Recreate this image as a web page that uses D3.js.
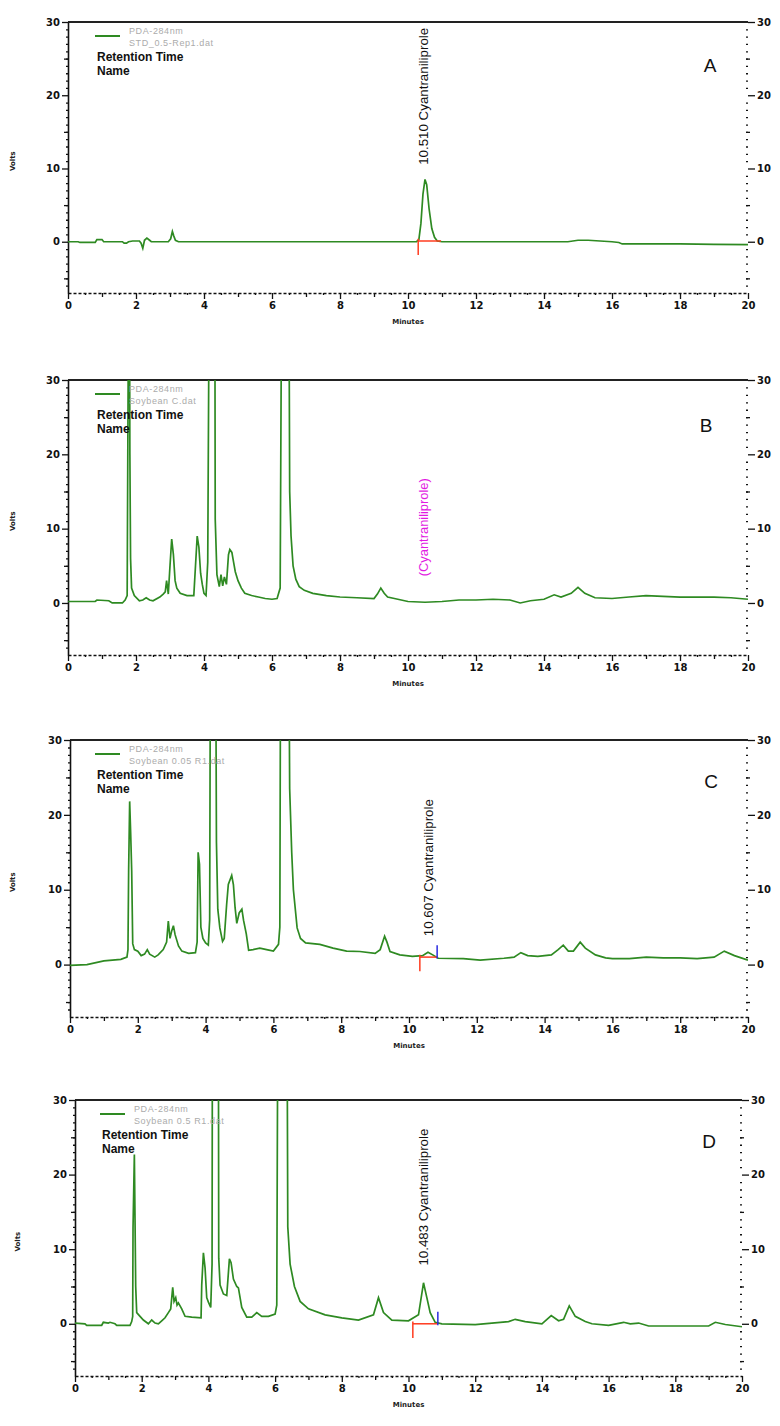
<!DOCTYPE html>
<html><head><meta charset="utf-8">
<script src="https://cdn.jsdelivr.net/npm/d3@7"></script>
<style>body{margin:0;background:#fff}</style></head>
<body><svg id="c" width="780" height="1426"></svg>
<script>
// ---------- DATA ----------
const panelLetters = ["A", "B", "C", "D"];
const channel = "PDA-284nm";
const fileNames = ["STD_0.5-Rep1.dat", "Soybean C.dat", "Soybean 0.05 R1.dat", "Soybean 0.5 R1.dat"];
const xTickLabels = [0, 2, 4, 6, 8, 10, 12, 14, 16, 18, 20];
const yTickLabels = [0, 10, 20, 30];
const annotText = ["10.510  Cyantraniliprole", "(Cyantraniliprole)", "10.607  Cyantraniliprole", "10.483  Cyantraniliprole"];
const annotTime = [10.51, 10.5, 10.607, 10.483];
const annotLevel = [10.5, 3.6, 3.8, 7.8];
const markStart = [10.3, null, 10.32, 10.13];
const markEnd = [10.97, null, 10.83, 10.88];
const markLevel = [0.1, null, 1.0, 0.0];
const markBlue = [false, false, true, true];

const traceA = [[0,0],[0.3,0],[0.35,-0.1],[0.8,-0.1],[0.85,0.3],[1.0,0.3],[1.05,0],[1.6,0],[1.65,-0.2],[1.72,-0.2],[1.78,0],[1.9,0.1],[2.1,0.1],[2.15,-0.2],[2.2,-0.9],[2.25,0.2],[2.32,0.5],[2.4,0.2],[2.45,0],[2.95,0],[3.02,0.4],[3.07,1.4],[3.11,0.8],[3.16,0.2],[3.25,0],[6,0],[9,0],[10.0,0],[10.25,0],[10.32,0.3],[10.38,2.5],[10.44,6.5],[10.5,8.5],[10.55,7.8],[10.62,4.5],[10.7,1.8],[10.78,0.6],[10.86,0.1],[11,0],[12,0],[14,0],[14.7,0],[15.0,0.2],[15.3,0.2],[16.0,0],[16.2,-0.1],[16.3,-0.3],[17,-0.3],[18,-0.3],[19,-0.35],[20,-0.4]];

const traceB = [[0,0.2],[0.8,0.2],[0.85,0.4],[1.2,0.3],[1.3,0.0],[1.6,0.0],[1.68,0.4],[1.74,1.0],[1.76,21.5],[1.78,40],[1.81,40],[1.82,20],[1.84,6],[1.87,2],[1.95,1.0],[2.1,0.3],[2.2,0.4],[2.3,0.7],[2.4,0.4],[2.5,0.3],[2.7,0.8],[2.8,1.2],[2.86,1.5],[2.9,3.0],[2.95,1.2],[3.0,5.0],[3.05,8.6],[3.1,6.5],[3.15,3.0],[3.2,2.0],[3.3,1.3],[3.5,1.0],[3.7,1.0],[3.75,5.0],[3.8,9.0],[3.85,7.5],[3.9,4.0],[3.95,2.5],[4.0,1.3],[4.06,1.0],[4.11,5.5],[4.15,40],[4.32,40],[4.33,11.3],[4.38,3.8],[4.45,2.2],[4.5,3.8],[4.55,2.3],[4.6,3.5],[4.66,2.5],[4.72,6.5],[4.76,7.2],[4.82,6.8],[4.87,5.5],[4.92,4.2],[5.0,3.0],[5.1,2.0],[5.2,1.3],[5.4,1.0],[5.6,0.8],[5.8,0.6],[6.0,0.5],[6.15,0.6],[6.24,2.0],[6.28,40],[6.5,40],[6.52,15],[6.56,9],[6.62,5],[6.7,3.2],[6.8,2.2],[6.95,1.7],[7.2,1.3],[7.6,1.0],[8.0,0.8],[8.5,0.7],[9.0,0.6],[9.1,1.2],[9.2,2.0],[9.3,1.3],[9.4,0.8],[9.6,0.6],[10.0,0.2],[10.5,0.1],[11.0,0.2],[11.5,0.4],[12.0,0.4],[12.5,0.5],[13.0,0.4],[13.3,0.0],[13.6,0.3],[14.0,0.5],[14.3,1.1],[14.5,0.8],[14.8,1.3],[15.0,2.1],[15.2,1.3],[15.5,0.7],[16.0,0.6],[16.5,0.8],[17.0,1.0],[17.5,0.9],[18.0,0.8],[18.5,0.8],[19.0,0.8],[19.5,0.7],[20.0,0.5]];

const traceC = [[0,-0.1],[0.5,0.0],[1.0,0.5],[1.5,0.7],[1.68,1.0],[1.71,2.0],[1.73,12.7],[1.76,21.8],[1.79,17.5],[1.82,12.5],[1.85,2.8],[1.9,2.0],[2.0,1.8],[2.1,1.2],[2.2,1.4],[2.28,2.0],[2.35,1.4],[2.5,1.0],[2.6,1.3],[2.75,2.0],[2.85,3.0],[2.9,5.8],[2.95,3.5],[3.0,4.5],[3.05,5.2],[3.1,4.0],[3.2,2.5],[3.3,1.8],[3.5,1.5],[3.7,1.6],[3.75,3.0],[3.78,15.0],[3.82,13.4],[3.86,5.0],[3.92,3.5],[4.0,2.9],[4.08,2.6],[4.12,6.0],[4.14,40],[4.3,40],[4.32,16.3],[4.36,7.4],[4.42,4.9],[4.5,3.1],[4.55,3.5],[4.62,8.0],[4.67,10.7],[4.77,11.9],[4.82,10.7],[4.87,7.6],[4.92,5.5],[4.99,6.9],[5.07,7.4],[5.12,5.9],[5.2,4.1],[5.27,1.9],[5.4,2.0],[5.6,2.2],[5.8,2.0],[6.0,1.8],[6.15,2.7],[6.19,5],[6.21,40],[6.46,40],[6.48,23.5],[6.54,15],[6.59,10.0],[6.7,4.9],[6.8,3.5],[6.95,2.9],[7.37,2.7],[7.76,2.2],[8.16,1.8],[8.55,1.75],[9.0,1.5],[9.15,2.0],[9.28,3.8],[9.35,3.0],[9.44,1.75],[9.73,1.3],[10.1,1.1],[10.4,1.2],[10.56,1.65],[10.7,1.3],[10.86,0.85],[11.6,0.8],[12.1,0.6],[12.8,0.85],[13.1,1.0],[13.3,1.6],[13.5,1.2],[13.8,1.1],[14.2,1.3],[14.4,2.0],[14.55,2.6],[14.7,1.8],[14.85,1.8],[15.05,3.0],[15.2,2.2],[15.5,1.3],[15.8,0.9],[16.0,0.8],[16.5,0.8],[17.0,1.0],[17.5,0.9],[18.0,0.9],[18.5,0.8],[19.0,1.0],[19.3,1.8],[19.6,1.2],[20.0,0.6]];

const traceD = [[0,0.1],[0.3,0.0],[0.35,-0.2],[0.8,-0.2],[0.85,0.2],[1.0,0.1],[1.05,0.2],[1.2,0.0],[1.25,-0.2],[1.65,-0.2],[1.7,0.3],[1.73,1.0],[1.74,12.8],[1.78,22.7],[1.82,5.0],[1.85,1.5],[1.95,1.0],[2.05,0.5],[2.2,0.0],[2.3,0.5],[2.4,0.1],[2.5,0.0],[2.6,0.4],[2.7,0.8],[2.8,1.5],[2.87,2.0],[2.93,4.9],[2.97,3.0],[3.02,3.5],[3.06,2.5],[3.1,2.8],[3.2,2.0],[3.3,1.0],[3.5,0.9],[3.78,0.8],[3.8,5.2],[3.85,9.5],[3.9,7.5],[3.95,3.5],[4.0,2.9],[4.07,2.2],[4.11,8.0],[4.12,40],[4.3,40],[4.31,8.8],[4.35,5.2],[4.45,4.0],[4.55,3.8],[4.63,8.7],[4.68,8.2],[4.75,6.0],[4.85,5.0],[4.9,4.8],[5.0,2.2],[5.15,0.9],[5.3,0.9],[5.45,1.5],[5.6,1.0],[5.8,1.0],[6.0,1.3],[6.05,2.5],[6.08,40],[6.36,40],[6.38,13],[6.45,8],[6.58,5],[6.75,3],[7.0,2],[7.5,1.2],[8.0,0.8],[8.5,0.5],[8.95,1.2],[9.1,3.5],[9.25,1.5],[9.5,0.5],[10.0,0.4],[10.3,1.2],[10.45,5.5],[10.55,3.5],[10.65,1.5],[10.8,0.2],[11.0,0.0],[12.0,-0.1],[13.0,0.3],[13.2,0.6],[13.5,0.3],[14.0,0.0],[14.28,1.1],[14.5,0.4],[14.65,0.6],[14.82,2.4],[15.0,1.0],[15.3,0.3],[15.5,0.0],[16.0,-0.2],[16.45,0.2],[16.65,0.0],[16.9,0.1],[17.2,-0.3],[18.0,-0.3],[19.0,-0.3],[19.2,0.2],[19.5,-0.1],[20.0,-0.4]];

const traces = [traceA, traceB, traceC, traceD];

// ---------- LAYOUT ----------
const layout = [
  {l:68, r:748, t:22,   b:293,  legX:95,  voltX:12, letX:710, letY:72},
  {l:68, r:748, t:380,  b:655,  legX:95,  voltX:12, letX:706, letY:432},
  {l:70, r:748, t:740,  b:1017, legX:95,  voltX:12, letX:711, letY:788},
  {l:75, r:742, t:1100, b:1376, legX:100, voltX:17, letX:709, letY:1148}
];
const GREEN = "#2e8a22";
const svg = d3.select("#c");
const defs = svg.append("defs");

panelLetters.forEach((letter, i) => {
  const L = layout[i];
  const x = d3.scaleLinear().domain([0, 20]).range([L.l, L.r]);
  const y = d3.scaleLinear().domain([-7, 30]).range([L.b, L.t]);
  const g = svg.append("g");

  defs.append("clipPath").attr("id", "clip" + i).append("rect")
    .attr("x", L.l).attr("y", L.t).attr("width", L.r - L.l).attr("height", L.b - L.t);

  // top frame line
  g.append("line").attr("x1", L.l).attr("x2", L.r).attr("y1", L.t).attr("y2", L.t)
    .attr("stroke", "#222").attr("stroke-width", 2);

  // left axis
  const la = g.append("g").attr("transform", `translate(${L.l},0)`)
    .call(d3.axisLeft(y).tickValues(yTickLabels).tickSize(6).tickSizeOuter(0).tickPadding(2).tickFormat(d3.format("d")));
  la.select(".domain").attr("stroke", "#111").attr("stroke-width", 1.6);
  g.append("g").attr("transform", `translate(${L.l},0)`)
    .call(d3.axisLeft(y).tickValues(d3.range(-6, 30, 1).filter(v => v % 10 !== 0)).tickSize(2).tickFormat(""))
    .call(a => a.select(".domain").remove());
  g.append("g").attr("transform", `translate(${L.l},0)`)
    .call(d3.axisLeft(y).tickValues([-5, 5, 15, 25]).tickSize(4).tickFormat(""))
    .call(a => a.select(".domain").remove());

  // right axis
  g.append("g").attr("transform", `translate(${L.r},0)`)
    .call(d3.axisRight(y).tickValues(yTickLabels).tickSize(7).tickPadding(2).tickFormat(d3.format("d")))
    .call(a => a.select(".domain").remove());
  g.append("g").attr("transform", `translate(${L.r - 2},0)`)
    .call(d3.axisRight(y).tickValues(d3.range(-6, 30, 1).filter(v => v % 10 !== 0)).tickSize(2).tickFormat(""))
    .call(a => a.select(".domain").remove());
  g.append("g").attr("transform", `translate(${L.r - 2},0)`)
    .call(d3.axisRight(y).tickValues([-5, 5, 15, 25]).tickSize(4).tickFormat(""))
    .call(a => a.select(".domain").remove());

  // bottom axis
  const ba = g.append("g").attr("transform", `translate(0,${L.b})`)
    .call(d3.axisBottom(x).tickValues(xTickLabels).tickSize(6).tickSizeOuter(0).tickPadding(3).tickFormat(d3.format("d")));
  ba.select(".domain").attr("stroke", "#111").attr("stroke-width", 1.6).attr("stroke-dasharray", "3,2");
  g.append("g").attr("transform", `translate(0,${L.b})`)
    .call(d3.axisBottom(x).tickValues(d3.range(1, 20, 2)).tickSize(4).tickFormat(""))
    .call(a => a.select(".domain").remove());
  g.append("g").attr("transform", `translate(0,${L.b})`)
    .call(d3.axisBottom(x).tickValues(d3.range(0.5, 20, 1)).tickSize(2).tickFormat(""))
    .call(a => a.select(".domain").remove());

  g.selectAll(".tick line").attr("stroke", "#111").attr("stroke-width", 1.3);
  g.selectAll(".tick text").attr("font-family", "DejaVu Sans").attr("font-weight", "bold")
    .attr("font-size", 10).attr("fill", "#111");

  // axis titles
  g.append("text").attr("x", (L.l + L.r) / 2).attr("y", L.b + 31)
    .attr("text-anchor", "middle").attr("font-family", "DejaVu Sans").attr("font-weight", "bold")
    .attr("font-size", 7).attr("fill", "#222").text("Minutes");
  g.append("text").attr("transform", `translate(${L.voltX + 3},${y(11)}) rotate(-90)`)
    .attr("text-anchor", "middle").attr("font-family", "DejaVu Sans").attr("font-weight", "bold")
    .attr("font-size", 7).attr("fill", "#222").text("Volts");

  // trace
  const line = d3.line().x(d => x(d[0])).y(d => y(d[1]));
  g.append("path").datum(traces[i]).attr("d", line).attr("fill", "none")
    .attr("stroke", GREEN).attr("stroke-width", 1.7).attr("stroke-linejoin", "miter")
    .attr("clip-path", `url(#clip${i})`);

  // baseline markers
  if (markStart[i] !== null) {
    g.append("line").attr("x1", x(markStart[i])).attr("x2", x(markEnd[i]))
      .attr("y1", y(markLevel[i])).attr("y2", y(markLevel[i]))
      .attr("stroke", "#ff3b1f").attr("stroke-width", 1.5);
    g.append("line").attr("x1", x(markStart[i])).attr("x2", x(markStart[i]))
      .attr("y1", y(markLevel[i] + 0.3)).attr("y2", y(markLevel[i] - 1.9))
      .attr("stroke", "#ff3b1f").attr("stroke-width", 1.5);
    if (markBlue[i]) {
      g.append("line").attr("x1", x(markEnd[i])).attr("x2", x(markEnd[i]))
        .attr("y1", y(markLevel[i] + 1.6)).attr("y2", y(markLevel[i] - 0.2))
        .attr("stroke", "#2a2ae0").attr("stroke-width", 1.5);
    }
  }

  // annotation
  const isB = i === 1;
  g.append("text").attr("transform", `translate(${x(annotTime[i]) + 3},${y(annotLevel[i])}) rotate(-90)`)
    .attr("font-family", "Liberation Sans, Arial").attr("font-size", 12)
    .attr("fill", isB ? "#e21be2" : "#111")
    .attr("textLength", isB ? 98 : 137).attr("lengthAdjust", "spacingAndGlyphs")
    .text(annotText[i]);

  // legend
  g.append("line").attr("x1", L.legX).attr("x2", L.legX + 25)
    .attr("y1", L.t + 14).attr("y2", L.t + 14).attr("stroke", GREEN).attr("stroke-width", 2);
  g.append("text").attr("x", L.legX + 34).attr("y", L.t + 12)
    .attr("font-family", "Liberation Sans, Arial").attr("font-size", 9).attr("letter-spacing", 0.6)
    .attr("fill", "#ababab").text(channel);
  g.append("text").attr("x", L.legX + 34).attr("y", L.t + 24)
    .attr("font-family", "Liberation Sans, Arial").attr("font-size", 9).attr("letter-spacing", 0.6)
    .attr("fill", "#ababab").text(fileNames[i]);
  g.append("text").attr("x", L.legX + 2).attr("y", L.t + 39)
    .attr("font-family", "Liberation Sans, Arial").attr("font-weight", "bold").attr("font-size", 12)
    .attr("fill", "#111").text("Retention Time");
  g.append("text").attr("x", L.legX + 2).attr("y", L.t + 53)
    .attr("font-family", "Liberation Sans, Arial").attr("font-weight", "bold").attr("font-size", 12)
    .attr("fill", "#111").text("Name");

  // panel letter
  g.append("text").attr("x", L.letX).attr("y", L.letY).attr("text-anchor", "middle")
    .attr("font-family", "Liberation Sans, Arial").attr("font-size", 19).attr("fill", "#111")
    .text(letter);
});
</script>
</body></html>
